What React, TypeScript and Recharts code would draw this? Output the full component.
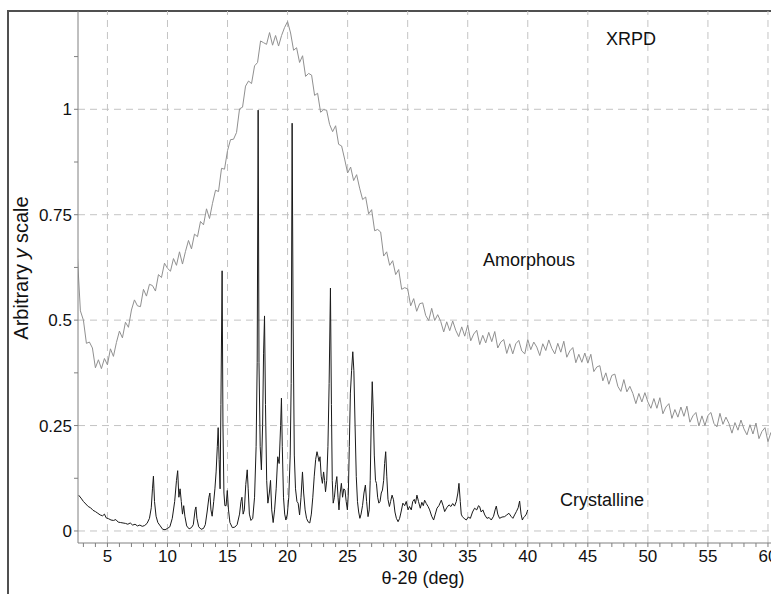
import React from 'react';
import { LineChart, Line, XAxis, YAxis, ReferenceLine } from 'recharts';

// ---- tick values ----
const xMajorTicks = [5, 10, 15, 20, 25, 30, 35, 40, 45, 50, 55, 60];
const xMinorTicks = [3, 4, 5, 6, 7, 8, 9, 10, 11, 12, 13, 14, 15, 16, 17, 18, 19, 20, 21, 22, 23, 24, 25, 26, 27, 28, 29, 30, 31, 32, 33, 34, 35, 36, 37, 38, 39, 40, 41, 42, 43, 44, 45, 46, 47, 48, 49, 50, 51, 52, 53, 54, 55, 56, 57, 58, 59, 60, 61];
const yMajorTicks = [0, 0.25, 0.5, 0.75, 1];
const yMinorTicks = [0, 0.125, 0.25, 0.375, 0.5, 0.625, 0.75, 0.875, 1, 1.125];
const yTickLabels: Record<string, string> = { '0': '0', '0.25': '0.25', '0.5': '0.5', '0.75': '0.75', '1': '1' };

// ---- amorphous series: 2θ sampled from 2.5° every 0.25° ----
const amorphousStart = 2.5;
const amorphousStep = 0.25;
const amorphousIntensity = [
  0.652, 0.522, 0.5, 0.445, 0.448, 0.434, 0.387, 0.406,
  0.385, 0.409, 0.394, 0.432, 0.414, 0.447, 0.474, 0.458,
  0.495, 0.483, 0.524, 0.548, 0.534, 0.532, 0.573, 0.557,
  0.585, 0.582, 0.569, 0.608, 0.601, 0.635, 0.623, 0.616,
  0.646, 0.63, 0.662, 0.633, 0.663, 0.689, 0.669, 0.704,
  0.698, 0.734, 0.726, 0.764, 0.741, 0.777, 0.808, 0.805,
  0.86, 0.858, 0.902, 0.928, 0.929, 0.945, 1.001, 1.005,
  1.055, 1.067, 1.061, 1.103, 1.111, 1.162, 1.158, 1.154,
  1.182, 1.152, 1.175, 1.15, 1.175, 1.194, 1.208, 1.181,
  1.14, 1.146, 1.111, 1.127, 1.078, 1.085, 1.081, 1.033,
  1.038, 0.993, 0.999, 0.998, 0.964, 0.947, 0.961, 0.917,
  0.913, 0.882, 0.849, 0.863, 0.831, 0.845, 0.813, 0.786,
  0.792, 0.752, 0.762, 0.712, 0.715, 0.709, 0.652, 0.662,
  0.63, 0.641, 0.608, 0.62, 0.573, 0.577, 0.574, 0.534,
  0.551, 0.521, 0.539, 0.541, 0.511, 0.499, 0.528, 0.499,
  0.513, 0.497, 0.472, 0.496, 0.475, 0.498, 0.476, 0.461,
  0.484, 0.462, 0.488, 0.451, 0.467, 0.476, 0.442, 0.464,
  0.446, 0.471, 0.449, 0.473, 0.434, 0.448, 0.454, 0.421,
  0.444, 0.42, 0.444, 0.452, 0.427, 0.42, 0.454, 0.43,
  0.448, 0.436, 0.416, 0.444, 0.428, 0.453, 0.433, 0.42,
  0.445, 0.424, 0.45, 0.412, 0.427, 0.435, 0.399, 0.419,
  0.4, 0.422, 0.398, 0.419, 0.378, 0.389, 0.392, 0.356,
  0.375, 0.348, 0.369, 0.372, 0.343, 0.331, 0.359, 0.33,
  0.343, 0.326, 0.302, 0.326, 0.306, 0.328, 0.306, 0.291,
  0.314, 0.291, 0.316, 0.278, 0.294, 0.302, 0.267, 0.288,
  0.27, 0.294, 0.272, 0.296, 0.258, 0.273, 0.281, 0.249,
  0.273, 0.25, 0.274, 0.281, 0.255, 0.247, 0.279, 0.253,
  0.27, 0.255, 0.232, 0.257, 0.239, 0.263, 0.242, 0.228,
  0.252, 0.23, 0.256, 0.219, 0.236, 0.245, 0.212, 0.234,
];

// ---- crystalline series: [2θ, intensity] ----
const crystallinePoints: [number, number][] = [
  [2.6, 0.085], [2.8, 0.078], [3.0, 0.07], [3.2, 0.064], [3.4, 0.058], [3.6, 0.055], [3.8, 0.049], [4.0, 0.046],
  [4.2, 0.042], [4.4, 0.038], [4.6, 0.036], [4.75, 0.04], [4.9, 0.031], [5.1, 0.029], [5.3, 0.026], [5.5, 0.025],
  [5.7, 0.027], [5.9, 0.021], [6.1, 0.02], [6.3, 0.019], [6.5, 0.018], [6.7, 0.016], [6.9, 0.019], [7.1, 0.014],
  [7.3, 0.016], [7.5, 0.012], [7.7, 0.014], [7.9, 0.011], [8.1, 0.013], [8.3, 0.018], [8.5, 0.03], [8.65, 0.055],
  [8.75, 0.1], [8.83, 0.13], [8.92, 0.07], [9.05, 0.035], [9.2, 0.02], [9.4, 0.012], [9.6, 0.004], [9.8, 0.003],
  [10.0, 0.006], [10.2, 0.01], [10.4, 0.03], [10.6, 0.07], [10.75, 0.12], [10.85, 0.143], [10.95, 0.08], [11.05, 0.1],
  [11.15, 0.07], [11.25, 0.04], [11.35, 0.06], [11.45, 0.035], [11.6, 0.012], [11.8, 0.005], [12.0, 0.008], [12.15, 0.015],
  [12.3, 0.05], [12.37, 0.057], [12.45, 0.03], [12.6, 0.01], [12.8, 0.004], [13.0, 0.006], [13.15, 0.015], [13.3, 0.045],
  [13.45, 0.08], [13.53, 0.09], [13.62, 0.05], [13.72, 0.035], [13.85, 0.07], [13.95, 0.1], [14.05, 0.14], [14.15, 0.2],
  [14.22, 0.245], [14.3, 0.17], [14.38, 0.1], [14.45, 0.3], [14.55, 0.617], [14.62, 0.25], [14.7, 0.09], [14.78, 0.06],
  [14.88, 0.06], [14.98, 0.096], [15.08, 0.05], [15.2, 0.02], [15.4, 0.008], [15.6, 0.009], [15.8, 0.015], [16.0, 0.04],
  [16.12, 0.07], [16.2, 0.08], [16.3, 0.04], [16.4, 0.05], [16.52, 0.11], [16.64, 0.145], [16.72, 0.1], [16.82, 0.04],
  [16.95, 0.025], [17.1, 0.03], [17.25, 0.08], [17.38, 0.2], [17.47, 0.4], [17.55, 0.998], [17.62, 0.4], [17.72, 0.2],
  [17.82, 0.145], [17.92, 0.25], [18.0, 0.42], [18.08, 0.51], [18.16, 0.3], [18.26, 0.12], [18.36, 0.066], [18.48, 0.09],
  [18.58, 0.12], [18.68, 0.05], [18.8, 0.02], [18.92, 0.05], [19.05, 0.1], [19.18, 0.176], [19.3, 0.16], [19.42, 0.25],
  [19.49, 0.315], [19.56, 0.2], [19.66, 0.08], [19.76, 0.04], [19.86, 0.026], [19.98, 0.04], [20.1, 0.08], [20.22, 0.18],
  [20.3, 0.35], [20.38, 0.967], [20.46, 0.5], [20.56, 0.18], [20.66, 0.1], [20.78, 0.07], [20.88, 0.066], [21.0, 0.038],
  [21.12, 0.08], [21.24, 0.14], [21.34, 0.09], [21.46, 0.05], [21.58, 0.03], [21.7, 0.022], [21.85, 0.019], [21.98, 0.04],
  [22.1, 0.08], [22.22, 0.13], [22.34, 0.17], [22.45, 0.188], [22.55, 0.175], [22.62, 0.165], [22.7, 0.176], [22.8, 0.13],
  [22.9, 0.113], [23.0, 0.14], [23.08, 0.12], [23.16, 0.093], [23.26, 0.12], [23.36, 0.2], [23.46, 0.35], [23.57, 0.576],
  [23.65, 0.3], [23.72, 0.12], [23.8, 0.066], [23.9, 0.08], [24.0, 0.11], [24.1, 0.129], [24.2, 0.08], [24.28, 0.05],
  [24.38, 0.09], [24.48, 0.113], [24.58, 0.08], [24.68, 0.1], [24.78, 0.097], [24.88, 0.07], [24.98, 0.05], [25.06, 0.09],
  [25.14, 0.2], [25.23, 0.327], [25.33, 0.38], [25.43, 0.425], [25.52, 0.38], [25.62, 0.25], [25.72, 0.129], [25.82, 0.07],
  [25.92, 0.045], [26.02, 0.03], [26.12, 0.04], [26.24, 0.06], [26.36, 0.09], [26.48, 0.109], [26.58, 0.07], [26.7, 0.034],
  [26.8, 0.05], [26.88, 0.12], [26.96, 0.25], [27.05, 0.354], [27.14, 0.28], [27.22, 0.18], [27.32, 0.12], [27.4, 0.113],
  [27.5, 0.08], [27.6, 0.066], [27.7, 0.07], [27.8, 0.09], [27.9, 0.097], [28.0, 0.12], [28.08, 0.16], [28.17, 0.188],
  [28.26, 0.13], [28.36, 0.075], [28.48, 0.058], [28.58, 0.07], [28.7, 0.085], [28.82, 0.074], [28.94, 0.045], [29.06, 0.03],
  [29.2, 0.022], [29.33, 0.03], [29.45, 0.045], [29.6, 0.066], [29.75, 0.06], [29.88, 0.07], [30.03, 0.05], [30.15, 0.058],
  [30.3, 0.05], [30.42, 0.07], [30.55, 0.075], [30.65, 0.065], [30.77, 0.085], [30.9, 0.07], [31.05, 0.054], [31.18, 0.068],
  [31.3, 0.06], [31.41, 0.073], [31.55, 0.065], [31.7, 0.058], [31.83, 0.05], [32.0, 0.035], [32.16, 0.026], [32.3, 0.04],
  [32.44, 0.054], [32.6, 0.06], [32.8, 0.073], [32.95, 0.06], [33.08, 0.046], [33.25, 0.055], [33.44, 0.062], [33.6, 0.058],
  [33.75, 0.065], [33.9, 0.059], [34.05, 0.07], [34.18, 0.09], [34.27, 0.113], [34.38, 0.07], [34.46, 0.04], [34.55, 0.034],
  [34.7, 0.03], [34.88, 0.026], [35.05, 0.033], [35.22, 0.03], [35.4, 0.045], [35.57, 0.054], [35.75, 0.05], [35.9, 0.06],
  [35.99, 0.058], [36.12, 0.045], [36.26, 0.05], [36.42, 0.038], [36.6, 0.03], [36.78, 0.032], [36.96, 0.026], [37.15, 0.035],
  [37.28, 0.05], [37.38, 0.059], [37.5, 0.04], [37.65, 0.03], [37.85, 0.033], [38.07, 0.034], [38.25, 0.038], [38.43, 0.042],
  [38.6, 0.035], [38.76, 0.03], [38.9, 0.038], [39.05, 0.046], [39.2, 0.055], [39.32, 0.071], [39.44, 0.04], [39.55, 0.026],
  [39.65, 0.032], [39.74, 0.034], [39.88, 0.04], [40.0, 0.05],
];

const amorphousData = amorphousIntensity.map((v, i) => ({ x: amorphousStart + i * amorphousStep, y: v }));
const crystallineData = crystallinePoints.map(([x, y]) => ({ x, y }));

const FONT = '"Liberation Sans", Arial, Helvetica, sans-serif';
const GRID = '#c4c4c4';
const AXIS = '#808080';

const XTick = (props: any) => {
  const { x, y, payload } = props;
  const v = payload.value;
  const major = xMajorTicks.includes(v);
  return (
    <g>
      <line x1={x} y1={y} x2={x} y2={y + 4} stroke={AXIS} strokeWidth={1} />
      {major && (
        <text x={x} y={y + 19} textAnchor="middle" fontSize={17} fontFamily={FONT} fill="#111">
          {v}
        </text>
      )}
    </g>
  );
};

const YTick = (props: any) => {
  const { x, y, payload } = props;
  const v = payload.value;
  const label = yTickLabels[String(v)];
  return (
    <g>
      <line x1={x - 4} y1={y} x2={x} y2={y} stroke={AXIS} strokeWidth={1} />
      {label !== undefined && (
        <text x={x - 6} y={y} dy="0.36em" textAnchor="end" fontSize={17} fontFamily={FONT} fill="#111">
          {label}
        </text>
      )}
    </g>
  );
};

const textStyle: React.CSSProperties = {
  position: 'absolute',
  fontFamily: FONT,
  fontSize: 18,
  lineHeight: '22px',
  color: '#111',
  whiteSpace: 'nowrap',
};

export default function App() {
  return (
    <div style={{ position: 'absolute', left: 0, top: 0, width: 771, height: 594, overflow: 'hidden', background: '#fff' }}>
      <div
        style={{
          position: 'absolute',
          left: 7,
          top: 10,
          width: 820,
          height: 620,
          borderLeft: '2px solid #505050',
          borderTop: '2px solid #505050',
        }}
      />
      <div style={{ position: 'absolute', left: 0, top: 0 }}>
        <LineChart width={800} height={594} margin={{ top: 11, right: 8, left: 0, bottom: 0 }}>
          {xMajorTicks.map((v) => (
            <ReferenceLine key={'vx' + v} x={v} stroke={GRID} strokeDasharray="7 5" strokeWidth={1} />
          ))}
          {yMajorTicks.map((v) => (
            <ReferenceLine key={'hy' + v} y={v} stroke={GRID} strokeDasharray="7 5" strokeWidth={1} />
          ))}
          <XAxis
            dataKey="x"
            type="number"
            domain={[2.55, 62]}
            allowDataOverflow
            ticks={xMinorTicks}
            interval={0}
            tick={<XTick />}
            tickLine={false}
            tickSize={0}
            tickMargin={0}
            axisLine={{ stroke: AXIS, strokeWidth: 1 }}
            height={51}
          />
          <YAxis
            type="number"
            domain={[-0.0285, 1.2331]}
            allowDataOverflow
            ticks={yMinorTicks}
            interval={0}
            tick={<YTick />}
            tickLine={false}
            tickSize={0}
            tickMargin={0}
            axisLine={{ stroke: AXIS, strokeWidth: 1 }}
            width={78}
          />
          <Line
            data={amorphousData}
            dataKey="y"
            type="linear"
            stroke="#909090"
            strokeWidth={1}
            dot={false}
            activeDot={false}
            isAnimationActive={false}
            name="Amorphous"
          />
          <Line
            data={crystallineData}
            dataKey="y"
            type="linear"
            stroke="#1a1a1a"
            strokeWidth={1}
            dot={false}
            activeDot={false}
            isAnimationActive={false}
            name="Crystalline"
          />
        </LineChart>
      </div>
      <div style={{ ...textStyle, left: 606, top: 38.5 - 11 }}>XRPD</div>
      <div style={{ ...textStyle, left: 483, top: 260 - 11 }}>Amorphous</div>
      <div style={{ ...textStyle, left: 560, top: 500 - 11 }}>Crystalline</div>
      <div style={{ ...textStyle, left: 423, top: 578, transform: 'translate(-50%, -50%)' }}>θ-2θ (deg)</div>
      <div
        style={{
          ...textStyle,
          fontSize: 20,
          left: 21,
          top: 268,
          transform: 'translate(-50%, -50%) rotate(-90deg)',
        }}
      >
        Arbitrary <i>y</i> scale
      </div>
    </div>
  );
}
